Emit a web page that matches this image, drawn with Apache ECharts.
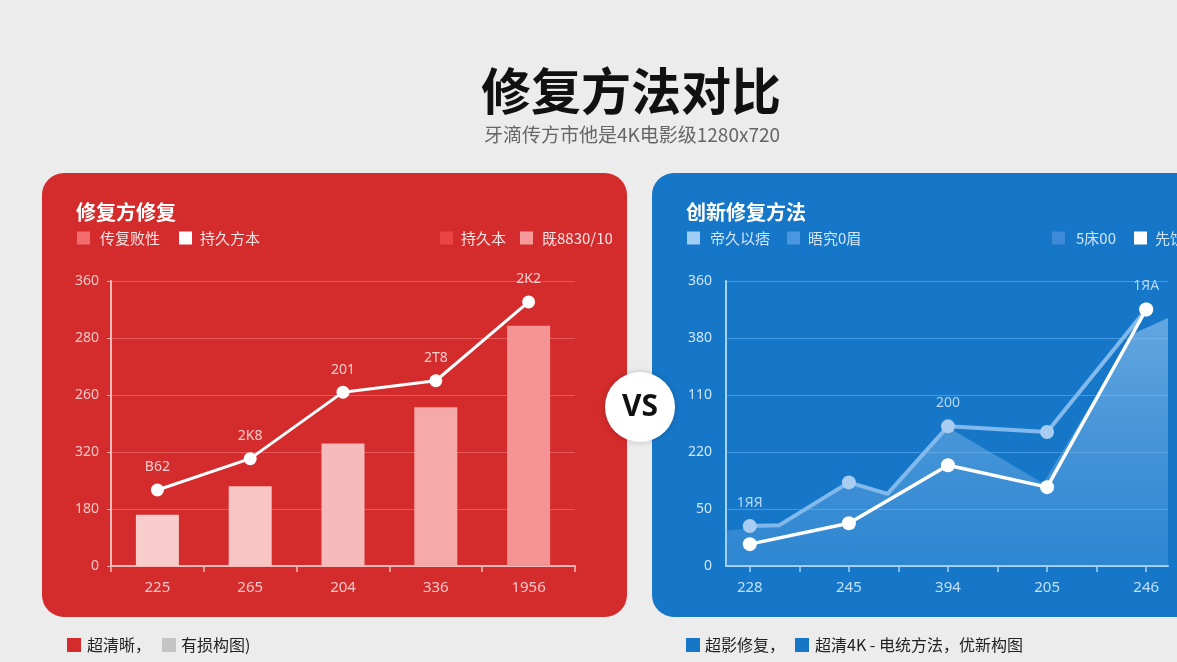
<!DOCTYPE html>
<html>
<head>
<meta charset="utf-8">
<title>修复方法对比</title>
<script src="https://cdn.jsdelivr.net/npm/echarts@6/dist/echarts.min.js"></script>
<style>
html, body { margin: 0; padding: 0; background: #ececec; }
#main { width: 1177px; height: 662px; }
</style>
</head>
<body>
<div id="main"></div>
<script>
// 左图：传统修复
var leftCats = ['225', '265', '204', '336', '1956'];
var leftYTicks = ['0', '180', '320', '260', '280', '360'];
var leftBars = [54, 84, 129, 167, 253];
var leftLine = [80, 113, 183, 195, 278];
var leftTags = ['B62', '2K8', '201', '2T8', '2K2'];
var barColors = ['#f9cccc', '#f8c4c4', '#f7baba', '#f5a9a9', '#f49494'];

// 右图：创新修复
var rightCats = ['228', '245', '394', '205', '246'];
var rightYTicks = ['0', '50', '220', '110', '380', '360'];
var rightSoft = [[1, 42], [1.3, 43], [2, 88], [2.39, 76], [3, 147], [4, 141], [5, 270]];
var rightSoftTags = ['1ЯЯ', '', '', '', '200', '', '1ЯA'];
var rightWhite = [[1, 23], [2, 45], [3, 106], [4, 83], [5, 270]];
var rightArea = [[0.76, 37], [1.3, 43], [2, 88], [2.39, 76], [3, 146], [3.96, 87], [4.88, 245], [5.22, 261]];

var cjk = '"Noto Sans CJK SC", "Noto Sans", sans-serif';

var myChart = echarts.init(document.getElementById('main'));

function legendItems(items, y, size, fontSize, textColor, weight) {
  var out = [];
  items.forEach(function (it) {
    out.push({ type: 'rect', z: 5, shape: { x: it.x, y: y - size / 2, width: size, height: size }, style: { fill: it.c } });
    out.push({ type: 'text', z: 5, x: it.tx, y: y, style: { text: it.t, fill: textColor, font: weight + ' ' + fontSize + 'px ' + cjk, textVerticalAlign: 'middle' } });
  });
  return out;
}

var graphics = [
  { type: 'rect', z: -10, shape: { x: 42, y: 173, width: 585, height: 444, r: 22 }, style: { fill: '#d42c2c' } },
  { type: 'rect', z: -10, shape: { x: 652, y: 173, width: 560, height: 444, r: 22 }, style: { fill: '#1677c8' } },
  { type: 'text', x: 631, y: 91, style: { text: '修复方法对比', fill: '#111', font: 'bold 50px ' + cjk, textAlign: 'center', textVerticalAlign: 'middle' } },
  { type: 'text', x: 632, y: 135, style: { text: '牙滴传方市他是4K电影级1280x720', fill: '#666', font: '19px ' + cjk, textAlign: 'center', textVerticalAlign: 'middle' } },
  { type: 'text', x: 76, y: 212, style: { text: '修复方修复', fill: '#fff', font: 'bold 20px ' + cjk, textVerticalAlign: 'middle' } },
  { type: 'text', x: 686, y: 212, style: { text: '创新修复方法', fill: '#fff', font: 'bold 20px ' + cjk, textVerticalAlign: 'middle' } },
  { type: 'circle', z: 100, shape: { cx: 640, cy: 407, r: 35 }, style: { fill: '#fff', shadowBlur: 6, shadowColor: 'rgba(0,0,0,0.2)' } },
  { type: 'text', z: 101, x: 640, y: 407, style: { text: 'VS', fill: '#111', font: 'bold 30px "Noto Sans", sans-serif', textAlign: 'center', textVerticalAlign: 'middle' } }
];

graphics = graphics.concat(legendItems([
  { x: 77, c: '#f36d6d', tx: 100, t: '传复败性' },
  { x: 179, c: '#ffffff', tx: 200, t: '持久方本' },
  { x: 440, c: '#ea4444', tx: 461, t: '持久本' },
  { x: 520, c: '#f59a9a', tx: 542, t: '既8830/10' }
], 238, 13, 15, '#fbe4e4', 'normal'));

graphics = graphics.concat(legendItems([
  { x: 687, c: '#9fcdf3', tx: 710, t: '帝久以痞' },
  { x: 787, c: '#4a97df', tx: 808, t: '晤究0眉' },
  { x: 1052, c: '#3f8ad6', tx: 1076, t: '5床00' },
  { x: 1134, c: '#ffffff', tx: 1155, t: '先饮' }
], 238, 13, 15, '#cfe5f8', 'normal'));

graphics = graphics.concat(legendItems([
  { x: 67, c: '#d42c2c', tx: 87, t: '超清晰，' },
  { x: 162, c: '#c4c4c4', tx: 181, t: '有损构图)' }
], 645, 14, 16, '#222', 'normal'));

graphics = graphics.concat(legendItems([
  { x: 686, c: '#1677c8', tx: 705, t: '超影修复，' },
  { x: 795, c: '#1677c8', tx: 815, t: '超清4K - 电统方法，优新构图' }
], 645, 14, 16, '#222', 'normal'));

var option = {
  animation: false,
  graphic: graphics,
  grid: [
    { left: 111, top: 281, width: 464, height: 285 },
    { left: 726, top: 281, right: 9, height: 285 }
  ],
  xAxis: [
    {
      gridIndex: 0,
      type: 'category',
      data: leftCats,
      boundaryGap: true,
      axisLine: { lineStyle: { color: '#f5b9b9', width: 2 } },
      axisTick: { show: true, length: 6, lineStyle: { color: '#f5b9b9', width: 1.5 } },
      axisLabel: { color: '#f8c6c6', fontSize: 15, margin: 14, fontFamily: 'Noto Sans' }
    },
    {
      gridIndex: 1,
      type: 'value',
      min: 0.76,
      max: 5.22,
      splitLine: { show: false },
      axisLine: { lineStyle: { color: '#a6d3f6', width: 2 } },
      axisTick: { show: true, length: 6, customValues: [1, 1.5, 2, 2.5, 3, 3.5, 4, 4.5, 5], lineStyle: { color: '#a6d3f6', width: 1.5 } },
      axisLabel: {
        color: '#bfe0f9', fontSize: 15, margin: 14, fontFamily: 'Noto Sans',
        customValues: [1, 2, 3, 4, 5],
        formatter: function (v) { return rightCats[Math.round(v) - 1]; }
      }
    }
  ],
  yAxis: [
    {
      gridIndex: 0,
      type: 'value',
      min: 0, max: 300, interval: 60,
      axisLine: { show: true, lineStyle: { color: '#f5b9b9', width: 2 } },
      axisTick: { show: true, length: 4, lineStyle: { color: '#f5b9b9' } },
      splitLine: { lineStyle: { color: 'rgba(255,140,140,0.45)', width: 1 } },
      axisLabel: { color: '#f8c6c6', fontSize: 14, margin: 12, fontFamily: 'Noto Sans',
        formatter: function (v) { return leftYTicks[Math.round(v / 60)]; } }
    },
    {
      gridIndex: 1,
      type: 'value',
      min: 0, max: 300, interval: 60,
      axisLine: { show: true, lineStyle: { color: '#a6d3f6', width: 2 } },
      axisTick: { show: false },
      splitLine: { lineStyle: { color: 'rgba(110,185,250,0.5)', width: 1 } },
      axisLabel: { color: '#cfe7fb', fontSize: 14, margin: 14, fontFamily: 'Noto Sans',
        formatter: function (v) { return rightYTicks[Math.round(v / 60)]; } }
    }
  ],
  series: [
    {
      type: 'bar',
      xAxisIndex: 0, yAxisIndex: 0,
      barWidth: 43,
      data: leftBars.map(function (v, i) { return { value: v, itemStyle: { color: barColors[i] } }; })
    },
    {
      type: 'line',
      xAxisIndex: 0, yAxisIndex: 0,
      data: leftLine,
      z: 5,
      symbol: 'circle',
      symbolSize: 13,
      lineStyle: { color: '#fff', width: 3 },
      itemStyle: { color: '#fff' },
      label: {
        show: true, position: 'top', distance: 9, color: '#f8cccc', fontSize: 14, fontFamily: 'Noto Sans',
        formatter: function (p) { return leftTags[p.dataIndex]; }
      }
    },
    {
      type: 'line',
      xAxisIndex: 1, yAxisIndex: 1,
      data: rightArea,
      symbol: 'none',
      z: 1,
      lineStyle: { width: 0 },
      areaStyle: {
        color: new echarts.graphic.LinearGradient(0, 0, 0, 1, [
          { offset: 0, color: 'rgba(170,210,245,0.75)' },
          { offset: 1, color: 'rgba(120,180,235,0.35)' }
        ])
      }
    },
    {
      type: 'line',
      xAxisIndex: 1, yAxisIndex: 1,
      z: 3,
      data: rightSoft.map(function (d, i) {
        var item = { value: d };
        if (d[0] !== Math.round(d[0])) { item.symbol = 'none'; }
        return item;
      }),
      symbol: 'circle',
      symbolSize: 14,
      lineStyle: { color: '#82b9ec', width: 4 },
      itemStyle: { color: '#a9cdf1' },
      label: {
        show: true, position: 'top', distance: 9, color: '#b3d8f8', fontSize: 14, fontFamily: 'Noto Sans',
        formatter: function (p) { return rightSoftTags[p.dataIndex]; }
      }
    },
    {
      type: 'line',
      xAxisIndex: 1, yAxisIndex: 1,
      z: 4,
      data: rightWhite,
      symbol: 'circle',
      symbolSize: 14,
      lineStyle: { color: '#fff', width: 3.5 },
      itemStyle: { color: '#fff' }
    }
  ]
};

myChart.setOption(option);
</script>
</body>
</html>
